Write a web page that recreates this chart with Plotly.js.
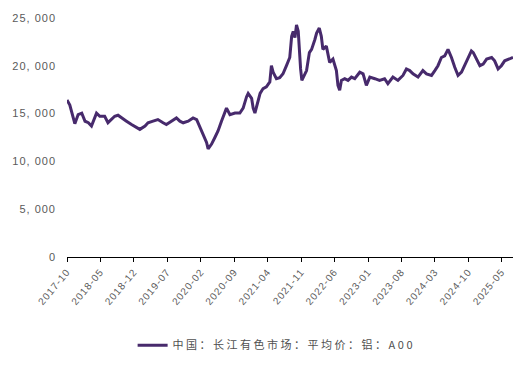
<!DOCTYPE html>
<html>
<head>
<meta charset="utf-8">
<script src="https://cdn.plot.ly/plotly-3.0.1.min.js"></script>
<style>
  html, body { margin: 0; padding: 0; background: #fff; }
  #chart { width: 519px; height: 366px; }
  .xtick text { letter-spacing: 1px; }
  .ytick text { letter-spacing: 1px; }
  .legendtext { letter-spacing: 2.5px; }
</style>
</head>
<body>
<div id="chart"></div>
<script>
// 中国:长江有色市场:平均价:铝:A00 (元/吨)
const dates = [
  "2017-10-01","2017-10-19","2017-11-10","2017-11-20","2017-12-11","2018-01-03","2018-01-24","2018-02-14",
  "2018-03-06","2018-03-27","2018-04-07","2018-04-28","2018-05-29","2018-06-19","2018-07-11","2018-08-01",
  "2018-08-22","2018-09-13","2018-10-15","2018-11-16","2018-12-17","2019-01-08","2019-02-10","2019-03-01",
  "2019-04-02","2019-05-03","2019-06-05","2019-06-26","2019-07-28","2019-08-29","2019-09-20","2019-10-11",
  "2019-11-12","2019-12-13","2020-01-05","2020-01-26","2020-02-16","2020-03-08","2020-03-18","2020-04-09",
  "2020-04-30","2020-05-20","2020-06-11","2020-07-02","2020-07-13","2020-08-04","2020-09-05","2020-10-06",
  "2020-10-27","2020-11-18","2020-11-28","2020-12-20","2020-12-30","2021-01-10","2021-02-01","2021-02-12",
  "2021-03-03","2021-03-24","2021-04-15","2021-04-25","2021-05-06","2021-05-27","2021-06-17","2021-07-08",
  "2021-07-30","2021-08-20","2021-09-01","2021-09-11","2021-09-22","2021-10-02","2021-10-13","2021-10-19",
  "2021-10-28","2021-11-05","2021-11-15","2021-12-05","2021-12-23","2022-01-06","2022-01-27","2022-02-07",
  "2022-02-24","2022-03-09","2022-03-19","2022-04-10","2022-05-01","2022-05-22","2022-06-13","2022-06-23",
  "2022-07-04","2022-07-15","2022-08-05","2022-08-26","2022-09-17","2022-10-08","2022-11-09","2022-11-30",
  "2022-12-21","2023-01-12","2023-02-13","2023-03-15","2023-04-16","2023-05-07","2023-06-08","2023-07-10",
  "2023-08-11","2023-09-02","2023-09-23","2023-10-14","2023-11-15","2023-12-16","2024-01-08","2024-02-09",
  "2024-03-01","2024-03-21","2024-04-12","2024-05-03","2024-05-24","2024-06-15","2024-07-06","2024-07-27",
  "2024-08-18","2024-09-08","2024-09-29","2024-10-20","2024-11-01","2024-11-22","2024-12-13","2025-01-03",
  "2025-01-25","2025-02-26","2025-03-17","2025-04-08","2025-04-29","2025-05-20","2025-06-21","2025-07-12"
];
const prices = [
  16420,15900,14550,13950,14900,15050,14200,14050,
  13700,14550,15050,14720,14720,14050,14380,14720,
  14830,14550,14210,13860,13525,13350,13700,14040,
  14210,14380,14040,13860,14210,14550,14210,14040,
  14210,14550,14380,13525,12840,11990,11300,11810,
  12500,13190,14210,15240,15570,14890,15060,15060,
  15570,16770,17110,16600,15570,15060,16260,17110,
  17620,17800,18310,20010,19330,18650,18750,19160,
  20010,20870,23080,23600,22950,24280,23620,21720,
  19670,18470,18800,19500,21380,21720,22750,23430,
  23950,23080,21720,22060,20360,20700,19500,17960,
  17450,18470,18650,18470,18820,18650,19330,19160,
  17960,18820,18650,18470,18650,18140,18820,18470,
  18990,19670,19500,19160,18820,19500,19160,18990,
  19500,20010,20870,21040,21720,20870,19850,18990,
  19330,20010,20700,21550,21380,20700,20010,20180,
  20700,20870,20520,19670,20010,20520,20700,20870
];
const seriesName = "中国：长江有色市场：平均价：铝：A00";
const yTickVals = [0, 5000, 10000, 15000, 20000, 25000];
const yTickText = ["0", "5, 000", "10, 000", "15, 000", "20, 000", "25, 000"];

const trace = {
  type: "scatter",
  mode: "lines",
  x: dates,
  y: prices,
  name: seriesName,
  line: { color: "#472a6c", width: 3 },
  showlegend: true
};

const layout = {
  width: 519,
  height: 366,
  margin: { l: 67, r: 6, t: 18, b: 104 },
  paper_bgcolor: "#ffffff",
  plot_bgcolor: "#ffffff",
  showlegend: true,
  font: { family: "Liberation Sans, Arial, sans-serif", color: "#5a5a5a" },
  xaxis: {
    type: "date",
    range: ["2017-10-01", "2025-07-12"],
    tick0: "2017-10-01",
    dtick: "M7",
    tickformat: "%Y-%m",
    tickangle: -50,
    ticks: "outside",
    ticklen: 4,
    tickcolor: "#000000",
    tickwidth: 1,
    showline: true,
    linecolor: "#000000",
    linewidth: 1,
    showgrid: false,
    zeroline: false,
    tickfont: { size: 10, color: "#5a5a5a", family: "Liberation Sans, Arial, sans-serif" }
  },
  yaxis: {
    range: [0, 25000],
    tickvals: yTickVals,
    ticktext: yTickText,
    showgrid: false,
    zeroline: false,
    showline: false,
    ticks: "",
    ticklabelstandoff: 10,
    tickfont: { size: 11, color: "#5a5a5a", family: "Liberation Sans, Arial, sans-serif" }
  },
  legend: {
    orientation: "h",
    x: 0.47,
    xanchor: "center",
    y: -0.369,
    yanchor: "middle",
    font: { size: 11, color: "#505050", family: "Noto Sans CJK SC, sans-serif" },
    bgcolor: "rgba(0,0,0,0)"
  }
};

Plotly.newPlot("chart", [trace], layout, { displayModeBar: false, staticPlot: true });
</script>
</body>
</html>
